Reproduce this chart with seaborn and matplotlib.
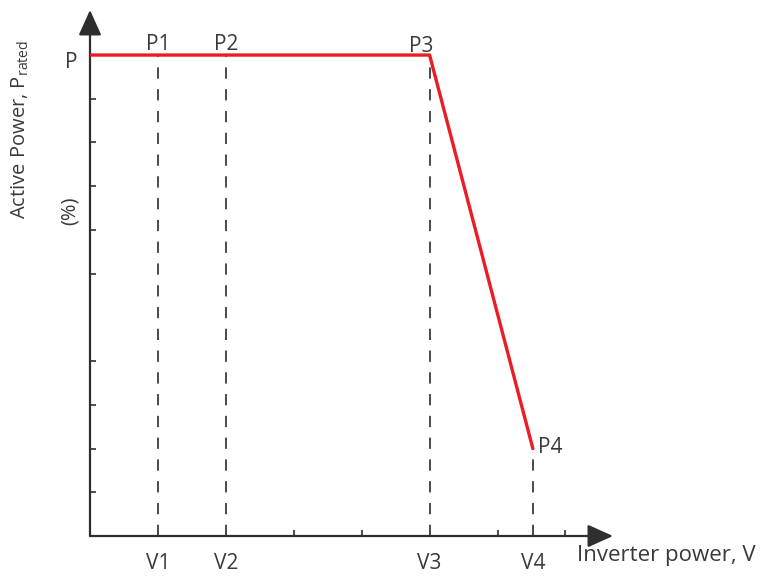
import matplotlib
matplotlib.use('Agg')
import matplotlib.pyplot as plt
import seaborn as sns
import pandas as pd

# curve points (x in grid units, y in units where P rated = 11)
curve_x = [0, 5, 6.52]
curve_y = [11, 11, 2]

v_labels = ['V1', 'V2', 'V3', 'V4']
v_pos = [1, 2, 5, 6.52]
p_labels = ['P1', 'P2', 'P3', 'P4']
p_level = [11, 11, 11, 2]

x_ticks = [1, 2, 3, 4, 5, 6, 6.52, 7]
y_ticks = [1, 2, 3, 4, 6, 7, 8, 9, 10]

sns.set_theme(style='white')
plt.rcParams['font.family'] = ['Open Sans', 'DejaVu Sans']
plt.rcParams['mathtext.fontset'] = 'custom'
plt.rcParams['mathtext.rm'] = 'Open Sans'

txt = '#3a3a3a'
axc = '#2e2e2e'
red = '#ec1c24'
fs = 15

fig = plt.figure(figsize=(7.61, 5.76), dpi=100)
ax = fig.add_axes([90 / 761, 40 / 576, 523 / 761, 526 / 576])
ax.set_xlim(0, 7.70)
ax.set_ylim(0, 12.03)
for s in ax.spines.values():
    s.set_visible(False)

df = pd.DataFrame({'x': curve_x, 'y': curve_y})
sns.lineplot(data=df, x='x', y='y', ax=ax, color=red, lw=2.4, zorder=4)

# dashed drop lines
ax.vlines(v_pos, 0, p_level, colors='#4a4a4a', linestyles=(0, (5.8, 5.4)), lw=1.4, zorder=3)

# axis arrows
arr = dict(arrowstyle='-|>,head_length=0.6,head_width=0.27', mutation_scale=26,
           lw=1.6, color=axc, shrinkA=0, shrinkB=0)
ax.annotate('', xy=(1, 0), xytext=(0, 0), xycoords='axes fraction', arrowprops=arr)
ax.annotate('', xy=(0, 1), xytext=(0, 0), xycoords='axes fraction', arrowprops=arr)

ax.set_xticks(x_ticks)
ax.set_xticklabels([v_labels[v_pos.index(t)] if t in v_pos else '' for t in x_ticks])
ax.set_yticks(y_ticks)
ax.set_yticklabels([])
ax.tick_params(axis='both', direction='in', length=4, width=1.2, color=axc,
               labelsize=fs, labelcolor=txt, bottom=True, left=True)
ax.tick_params(axis='x', pad=12)
ax.set_xlabel('')
ax.set_ylabel('')

# point labels (offsets in pixels)
offs = [(0, 11), (0, 11), (-8, 9), (17, 1)]
for lab, xv, yv, (dx, dy) in zip(p_labels, v_pos, p_level, offs):
    ax.annotate(lab, xy=(xv, yv), xytext=(dx * 0.72, dy * 0.72), textcoords='offset points',
                ha='center', va='center', fontsize=fs, color=txt, zorder=5)

ax.annotate('P', xy=(0, 11), xytext=(-19 * 0.72, -7 * 0.72), textcoords='offset points',
            ha='center', va='center', fontsize=fs, color=txt)

fig.text(20 / 761, 1 - 129 / 576, 'Active Power, P$_{\\mathrm{rated}}$', rotation=90,
         ha='center', va='center', fontsize=14.5, color=txt)
fig.text(70 / 761, 1 - 211 / 576, '(%)', rotation=90, ha='center', va='center',
         fontsize=14.5, color=txt)
fig.text(577 / 761, 1 - 556 / 576, 'Inverter power, V', ha='left', va='center',
         fontsize=16, color=txt)

fig.savefig('out.png', dpi=100)
